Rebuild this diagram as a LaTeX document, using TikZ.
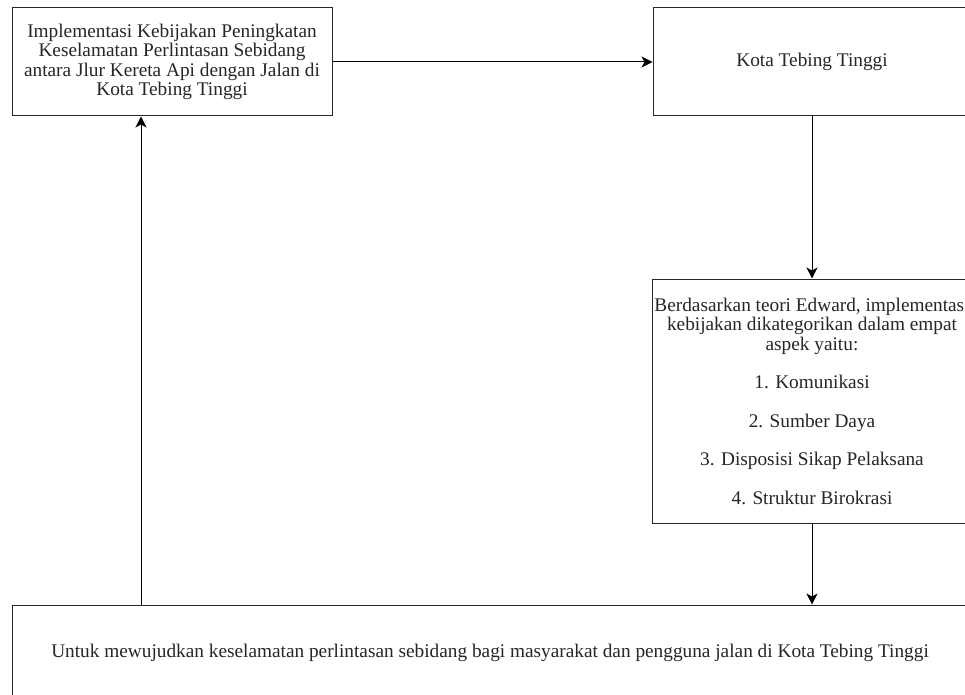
\documentclass[tikz,border=0pt]{standalone}
\usepackage{fontspec}
\setmainfont{Liberation Serif}
\usetikzlibrary{arrows.meta}
\tikzset{
  box/.style={draw=black!85, line width=1pt, rectangle, inner sep=0pt, align=center,
    font=\fontsize{19.3}{19.5}\selectfont, text=black!85},
  conn/.style={draw=black, line width=1pt, -{Stealth[length=11pt,width=11pt,inset=3pt]}}
}
\begin{document}
\begin{tikzpicture}[x=1pt,y=-1pt]
\useasboundingbox (0,0) rectangle (965,695);
\fill[white] (0,0) rectangle (965,695);
\clip (0,0) rectangle (965,695);
\node[box, minimum width=320pt, minimum height=108pt] (A) at (172,62)
  {Implementasi Kebijakan Peningkatan\\Keselamatan Perlintasan Sebidang\\antara Jlur Kereta Api dengan Jalan di\\Kota Tebing Tinggi};
\node[box, minimum width=318pt, minimum height=108pt] (B) at (812,62) {Kota Tebing Tinggi};
\node[box, minimum width=320pt, minimum height=244pt] (C) at (812,401)
  {Berdasarkan teori Edward, implementasi\\kebijakan dikategorikan dalam empat\\aspek yaitu:\\[19pt]
   1. Komunikasi\\[19pt]2. Sumber Daya\\[19pt]3. Disposisi Sikap Pelaksana\\[19pt]4. Struktur Birokrasi};
\node[box, minimum width=956pt, minimum height=95pt] (D) at (490,652.5)
  {Untuk mewujudkan keselamatan perlintasan sebidang bagi masyarakat dan pengguna jalan di Kota Tebing Tinggi};
\coordinate (u) at (141,0);
\draw[conn] (A.east) -- (B.west);
\draw[conn] (B.south) -- (C.north);
\draw[conn] (C.south) -- (C.south |- D.north);
\draw[conn] (D.north -| u) -- (A.south -| u);
\end{tikzpicture}
\end{document}
